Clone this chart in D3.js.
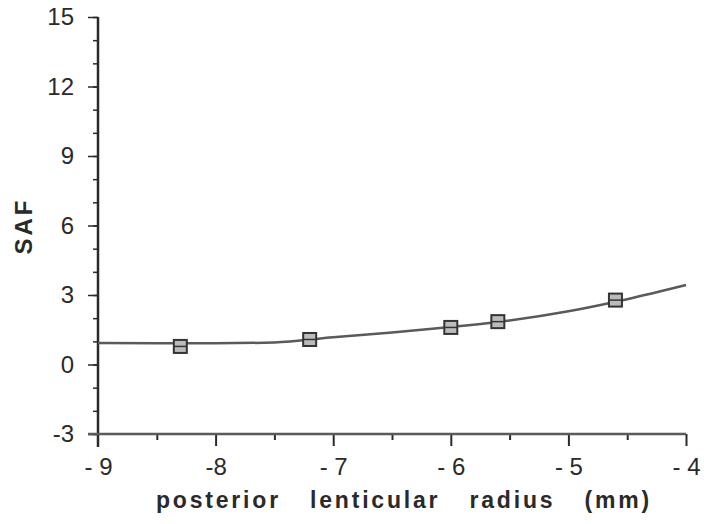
<!DOCTYPE html>
<html>
<head>
<meta charset="utf-8">
<script src="https://cdn.jsdelivr.net/npm/d3@7"></script>
<style>
  html, body { margin: 0; padding: 0; background: #fff; }
  svg { display: block; }
  text { font-family: "Liberation Sans", Arial, sans-serif; }
</style>
</head>
<body>
<svg id="chart" width="704" height="524"></svg>
<script>
// Measured SAF values
const radiusPoints = [-8.3, -7.2, -6.0, -5.6, -4.6];
const safPoints = [0.78, 1.08, 1.6, 1.85, 2.78];

// Fitted curve
const curveRadius = [-9, -8.5, -8, -7.5, -7, -6.5, -6, -5.5, -5, -4.5, -4];
const curveSaf = [0.93, 0.92, 0.92, 0.95, 1.18, 1.38, 1.62, 1.9, 2.3, 2.82, 3.43];

const yTicks = [15, 12, 9, 6, 3, 0, -3];
const xTicks = [-9, -8, -7, -6, -5, -4];
const xTickLabels = ["- 9", "-8", "- 7", "- 6", "- 5", "- 4"];

const svg = d3.select("#chart");
const x = d3.scaleLinear().domain([-9, -4]).range([98, 686]);
const y = d3.scaleLinear().domain([-3, 15]).range([434, 17]);

const ink = "#2a2a2a";
const grey = "#5a5a5a";

// y axis: minor ticks every unit, major every 3
const yAxisMinor = d3.axisLeft(y).tickValues(d3.range(-3, 16, 1)).tickSize(5).tickFormat("");
const gyMinor = svg.append("g").attr("transform", `translate(${x(-9)},0)`).call(yAxisMinor);
gyMinor.select(".domain").remove();
gyMinor.selectAll("line").attr("stroke", ink).attr("stroke-width", 1.5);

const yAxis = d3.axisLeft(y).tickValues(yTicks).tickSize(10).tickPadding(14).tickFormat(d => d);
const gy = svg.append("g").attr("transform", `translate(${x(-9)},0)`).call(yAxis);
gy.select(".domain").remove();
gy.selectAll("line").attr("stroke", ink).attr("stroke-width", 1.5);
gy.selectAll("text").attr("font-size", 24).attr("fill", ink);

// vertical axis line
svg.append("line")
  .attr("x1", x(-9)).attr("x2", x(-9))
  .attr("y1", y(15)).attr("y2", y(-3) + 13)
  .attr("stroke", ink).attr("stroke-width", 2.5);

// x axis along the bottom: major ticks at integers, minor at halves
const xAxisMinor = d3.axisBottom(x).tickValues(d3.range(-8.5, -4, 1)).tickSize(6).tickFormat("");
const gxMinor = svg.append("g").attr("transform", `translate(0,${y(-3)})`).call(xAxisMinor);
gxMinor.select(".domain").remove();
gxMinor.selectAll("line").attr("stroke", ink).attr("stroke-width", 2);

const xAxis = d3.axisBottom(x).tickValues(xTicks).tickSize(12).tickPadding(12)
  .tickFormat((d, i) => xTickLabels[i]);
const gx = svg.append("g").attr("transform", `translate(0,${y(-3)})`).call(xAxis);
gx.select(".domain").remove();
gx.selectAll("line").attr("stroke", ink).attr("stroke-width", 2);
gx.selectAll("line").filter(d => d === -9).remove();
gx.selectAll("text").attr("font-size", 24).attr("fill", ink);

// horizontal axis line
svg.append("line")
  .attr("x1", x(-9) - 10).attr("x2", x(-4))
  .attr("y1", y(-3)).attr("y2", y(-3))
  .attr("stroke", grey).attr("stroke-width", 2.5);

// fitted curve
const line = d3.line()
  .x((d, i) => x(curveRadius[i]))
  .y(d => y(d))
  .curve(d3.curveMonotoneX);
svg.append("path")
  .datum(curveSaf)
  .attr("d", line)
  .attr("fill", "none")
  .attr("stroke", grey)
  .attr("stroke-width", 2.5);

// data markers: hatched squares
const s = 13;
const mk = svg.append("g").selectAll("g")
  .data(safPoints)
  .join("g")
  .attr("transform", (d, i) => `translate(${x(radiusPoints[i])},${y(d)})`);
mk.append("rect")
  .attr("x", -s / 2).attr("y", -s / 2).attr("width", s).attr("height", s)
  .attr("fill", "#bbb").attr("stroke", "#333").attr("stroke-width", 2);
mk.append("line")
  .attr("x1", -s / 2).attr("x2", s / 2).attr("y1", 0).attr("y2", 0)
  .attr("stroke", "#333").attr("stroke-width", 1.5);

// axis titles
svg.append("text")
  .attr("x", 404).attr("y", 508)
  .attr("text-anchor", "middle")
  .attr("font-size", 23).attr("font-weight", "bold")
  .style("letter-spacing", "2.8px").style("word-spacing", "20px")
  .attr("fill", ink)
  .text("posterior lenticular radius (mm)");

svg.append("text")
  .attr("transform", "translate(32,226) rotate(-90)")
  .attr("text-anchor", "middle")
  .attr("font-size", 24).attr("font-weight", "bold")
  .style("letter-spacing", "3px")
  .attr("fill", ink)
  .text("SAF");
</script>
</body>
</html>
